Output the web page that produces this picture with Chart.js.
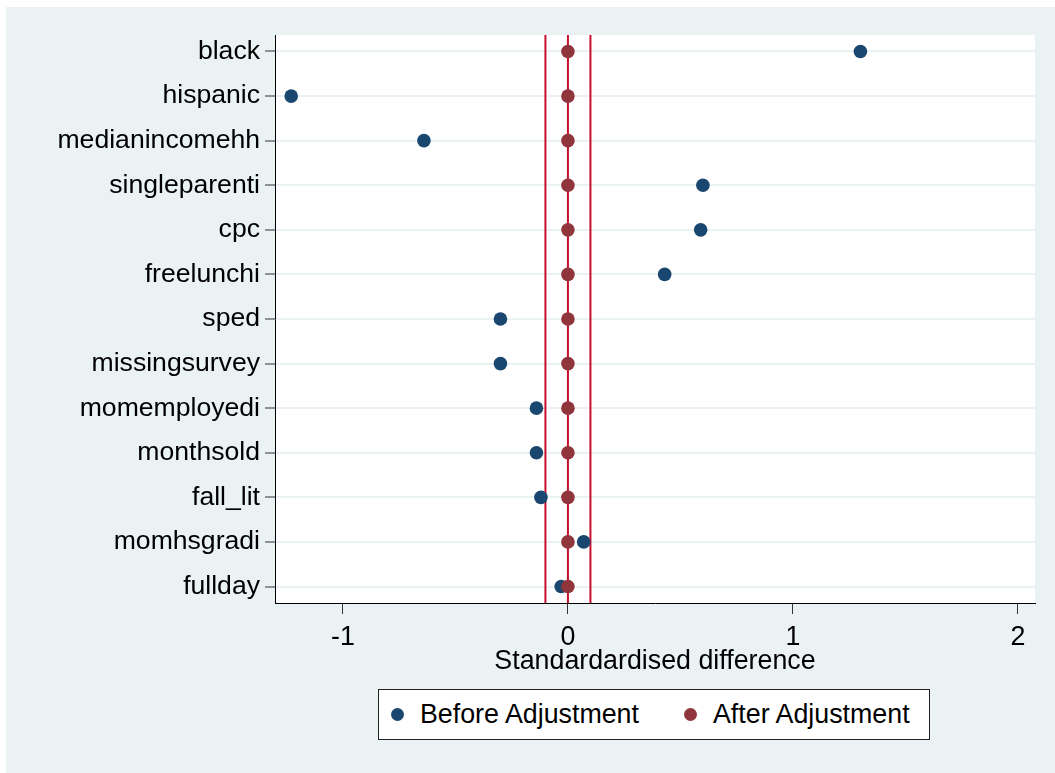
<!DOCTYPE html>
<html>
<head>
<meta charset="utf-8">
<script src="https://cdn.jsdelivr.net/npm/chart.js@4"></script>
<style>
  html, body { margin: 0; padding: 0; background: #fff; }
  #wrap { position: relative; width: 1055px; height: 773px; }
  #legend {
    position: absolute; left: 378px; top: 689px; width: 552px; height: 51px;
    background: #fff; border: 1px solid #222; box-sizing: border-box;
    display: flex; align-items: center; justify-content: flex-start; padding-left: 12px;
    font-family: 'Liberation Sans', Arial, sans-serif; font-size: 26.8px; color: #000;
  }
  #legend .item { display: flex; align-items: center; }
  #legend .item + .item { margin-left: 45px; }
  #legend .dot { width: 13px; height: 13px; border-radius: 50%; margin-right: 16px; }
</style>
</head>
<body>
<div id="wrap">
  <canvas id="chart"></canvas>
  <div id="legend">
    <div class="item"><span class="dot" style="background:#1A476F"></span>Before Adjustment</div>
    <div class="item"><span class="dot" style="background:#90353B"></span>After Adjustment</div>
  </div>
</div>
<script>
// covariates, top to bottom
const variables = ['black', 'hispanic', 'medianincomehh', 'singleparenti', 'cpc', 'freelunchi',
  'sped', 'missingsurvey', 'momemployedi', 'monthsold', 'fall_lit', 'momhsgradi', 'fullday'];
const beforeAdj = [1.30, -1.23, -0.64, 0.60, 0.59, 0.43, -0.30, -0.30, -0.14, -0.14, -0.12, 0.07, -0.03];
const afterAdj  = [0.00, 0.00, 0.00, 0.00, 0.00, 0.00, 0.00, 0.00, 0.00, 0.00, 0.00, 0.00, 0.00];
const refLines  = [-0.1, 0, 0.1];
const xTicks    = [-1, 0, 1, 2];

const FONT = "'Liberation Sans', Arial, sans-serif";
const yMin = -0.37, yMax = variables.length - 1 + 0.37;

const toPoints = vals => vals.map((v, i) => ({ x: v, y: i }));

const refSets = refLines.map(x => ({
  type: 'line',
  data: [{ x: x, y: yMin }, { x: x, y: yMax }],
  borderColor: '#C8102E',
  borderWidth: 2,
  pointRadius: 0,
  order: 3
}));

const bg = {
  id: 'bg',
  beforeDraw(chart) {
    const c = chart.ctx, a = chart.chartArea;
    c.save();
    c.fillStyle = '#EAF2F3';
    c.fillRect(6, 7, chart.width - 6, chart.height - 7);
    c.fillStyle = '#fff';
    c.fillRect(a.left, a.top, a.right - a.left, a.bottom - a.top);
    c.restore();
  }
};

new Chart(document.getElementById('chart').getContext('2d'), {
  type: 'scatter',
  data: {
    datasets: [
      ...refSets,
      { label: 'Before Adjustment', data: toPoints(beforeAdj), backgroundColor: '#1A476F',
        pointRadius: 6.8, pointBorderWidth: 0, order: 2 },
      { label: 'After Adjustment', data: toPoints(afterAdj), backgroundColor: '#90353B',
        pointRadius: 6.8, pointBorderWidth: 0, order: 1 }
    ]
  },
  options: {
    responsive: true,
    maintainAspectRatio: false,
    animation: false,
    layout: { padding: { left: 0, top: 35, right: 20, bottom: 93 } },
    plugins: { legend: { display: false }, tooltip: { enabled: false } },
    scales: {
      x: {
        type: 'linear',
        min: -1.302,
        max: 2.076,
        afterBuildTicks: s => { s.ticks = xTicks.map(v => ({ value: v })); },
        afterFit: s => { s.height = 77; },
        grid: { drawOnChartArea: false, tickLength: 11, tickColor: '#333', tickWidth: 1 },
        border: { color: '#000', width: 1 },
        ticks: { color: '#000', font: { family: FONT, size: 26.8 }, padding: 8, maxRotation: 0 },
        title: { display: true, text: 'Standardardised difference', color: '#000',
          font: { family: FONT, size: 26.8 }, padding: { top: 0, bottom: 2 } }
      },
      y: {
        type: 'linear',
        reverse: true,
        min: yMin,
        max: yMax,
        afterBuildTicks: s => { s.ticks = variables.map((_, i) => ({ value: i })); },
        afterFit: s => { s.width = 275; },
        grid: { color: '#EAF2F3', lineWidth: 2, tickLength: 10, tickColor: '#333', tickWidth: 1 },
        border: { color: '#000', width: 1 },
        ticks: { color: '#000', font: { family: FONT, size: 26.6 }, padding: 5,
          callback: v => variables[v] }
      }
    }
  },
  plugins: [bg]
});
</script>
</body>
</html>
